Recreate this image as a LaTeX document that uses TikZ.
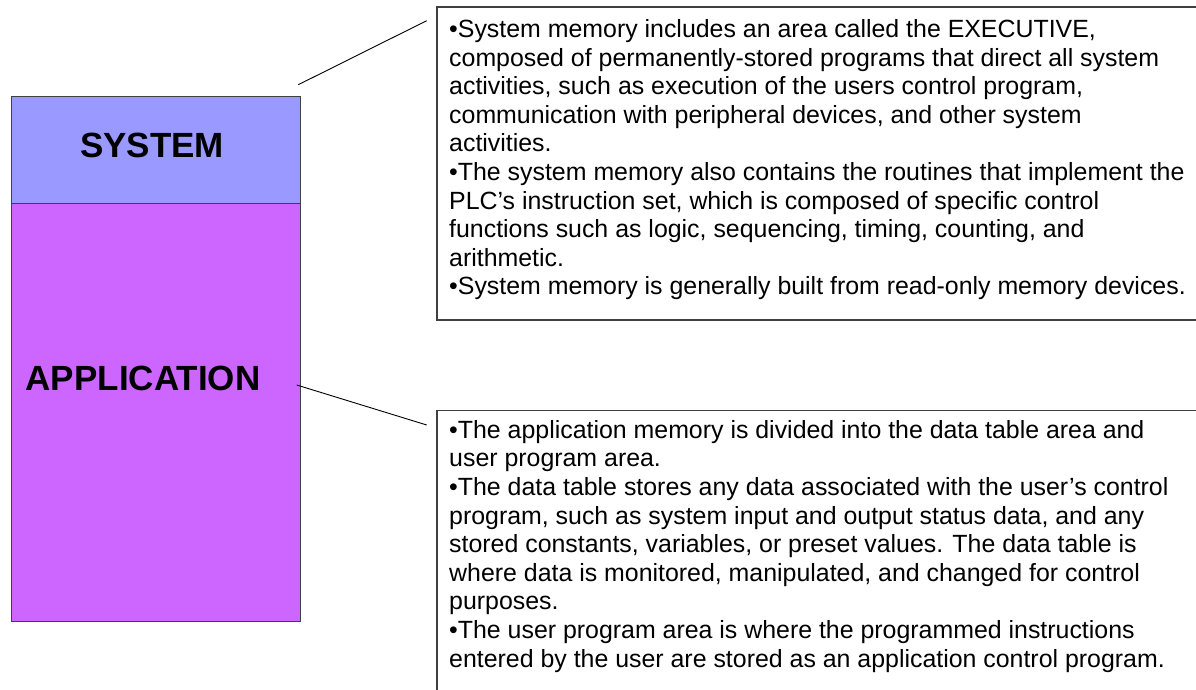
\documentclass[tikz,border=0pt]{standalone}
\usepackage{fontspec}
\setmainfont{Liberation Sans}
\definecolor{sysblue}{HTML}{9999FF}
\definecolor{appviolet}{HTML}{CC66FF}
\definecolor{edge}{HTML}{404040}
\tikzset{
  memblock/.style={draw=edge, line width=1pt, inner sep=0pt},
  blocklabel/.style={font=\fontsize{35pt}{40pt}\selectfont\bfseries},
  notebox/.style={draw=edge, line width=1.2pt},
  % anchored at the baseline of the last line
  notetext/.style={inner sep=0pt, align=left, anchor=base west,
    font=\fontsize{24.9pt}{28.6pt}\selectfont},
  leader/.style={draw=black, line width=0.9pt}
}
\begin{document}
\begin{tikzpicture}[x=1pt,y=-1pt]
\useasboundingbox (0,0) rectangle (1196,690);
\fill[white] (0,0) rectangle (1196,690);

% memory map blocks
\node[memblock, fill=sysblue, minimum width=289pt, minimum height=107pt, anchor=north west] (sys) at (10.5,95.7) {};
\node[memblock, fill=appviolet, minimum width=289pt, minimum height=418pt, anchor=north west] (app) at (10.5,202.7) {};
\node[blocklabel] (syslbl) at (152,145) {SYSTEM};
\node[blocklabel] (applbl) at (143,378) {APPLICATION};

% description boxes
\draw[notebox] (1210,7) -- (437,7) -- (437,320) -- (1210,320);
\draw[notebox] (1210,410.7) -- (437,410.7) -- (437,700);

\node[notetext] (systext) at (449,294.9) {%
•System memory includes an area called the EXECUTIVE,\\
composed of permanently-stored programs that direct all system\\
activities, such as execution of the users control program,\\
communication with peripheral devices, and other system\\
activities.\\
•The system memory also contains the routines that implement the\\
PLC’s instruction set, which is composed of specific control\\
functions such as logic, sequencing, timing, counting, and\\
arithmetic.\\
•System memory is generally built from read-only memory devices.};

\node[notetext] (apptext) at (449,667.1) {%
•The application memory is divided into the data table area and\\
user program area.\\
•The data table stores any data associated with the user’s control\\
program, such as system input and output status data, and any\\
stored constants, variables, or preset values. The data table is\\
where data is monitored, manipulated, and changed for control\\
purposes.\\
•The user program area is where the programmed instructions\\
entered by the user are stored as an application control program.};

% leader lines
\coordinate (sysfrom) at (298.3,84.7);
\coordinate (systo) at (426.7,20.7);
\coordinate (appfrom) at (296.7,385);
\coordinate (appto) at (426.7,425);
\draw[leader] (sysfrom) -- (systo);
\draw[leader] (appfrom) -- (appto);
\end{tikzpicture}
\end{document}
